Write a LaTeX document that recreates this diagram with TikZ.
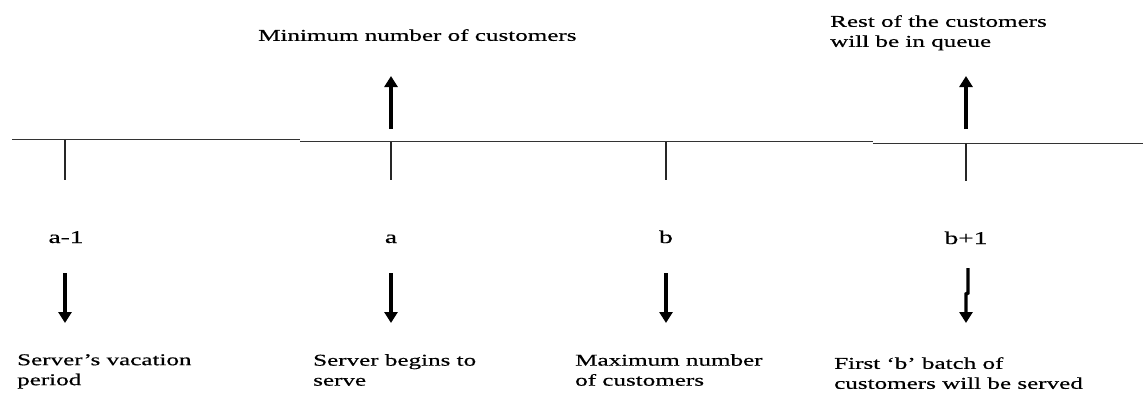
\documentclass[tikz,border=0pt]{standalone}
\usepackage{fontspec}
\setmainfont{Liberation Serif}[FakeStretch=1.52,FakeBold=0.5]
\usetikzlibrary{arrows.meta}
\begin{document}
\begin{tikzpicture}[x=1pt,y=-1pt,
  axisline/.style={line width=1.3pt,black!80},
  tickline/.style={line width=1.4pt,black!85},
  bigarrow/.style={line width=3.4pt,black,-{Triangle[width=13pt,length=11pt]}},
  lbl/.style={inner sep=0pt,align=left,anchor=north west,font=\fontsize{16.5}{20}\selectfont},
  pt/.style={inner sep=0pt,anchor=base,font=\fontsize{18}{20}\selectfont}]
\useasboundingbox (0,0) rectangle (1143,397);
\fill[white] (0,0) rectangle (1143,397);
% axis in three slightly offset pieces
\coordinate (l0) at (12,139.7);
\coordinate (l1) at (300,139.7);
\coordinate (l2) at (300,141.7);
\coordinate (l3) at (873,141.7);
\coordinate (l4) at (873,143.3);
\coordinate (l5) at (1143,143.3);
\draw[axisline] (l0) -- (l1);
\draw[axisline] (l2) -- (l3);
\draw[axisline] (l4) -- (l5);
% ticks
\coordinate (t1a) at (65,139.7);  \coordinate (t1b) at (65,180);
\coordinate (t2a) at (391,141.7); \coordinate (t2b) at (391,180);
\coordinate (t3a) at (666,141.7); \coordinate (t3b) at (666,180);
\coordinate (t4a) at (966,143.3); \coordinate (t4b) at (966,181);
\draw[tickline] (t1a) -- (t1b);
\draw[tickline] (t2a) -- (t2b);
\draw[tickline] (t3a) -- (t3b);
\draw[tickline] (t4a) -- (t4b);
% point labels
\node[pt] (pa1) at (66,243) {a-1};
\node[pt] (pa) at (391,243) {a};
\node[pt] (pb) at (666,243) {b};
\node[pt] (pb1) at (966,244) {b+1};
% up arrows
\coordinate (u1s) at (391,129); \coordinate (u1e) at (391,76);
\coordinate (u2s) at (966,129); \coordinate (u2e) at (966,76);
\draw[bigarrow] (u1s) -- (u1e);
\draw[bigarrow] (u2s) -- (u2e);
% down arrows
\coordinate (d1s) at (65,273);  \coordinate (d1e) at (65,323);
\coordinate (d2s) at (391,273); \coordinate (d2e) at (391,323);
\coordinate (d3s) at (666,273); \coordinate (d3e) at (666,323);
\coordinate (d4s) at (968,268); \coordinate (d4m) at (968,293);
\coordinate (d4n) at (966,294); \coordinate (d4e) at (966,323);
\draw[bigarrow] (d1s) -- (d1e);
\draw[bigarrow] (d2s) -- (d2e);
\draw[bigarrow] (d3s) -- (d3e);
\draw[bigarrow] (d4s) -- (d4m) -- (d4n) -- (d4e);
% top texts
\node[lbl] (minc) at (258,29) {Minimum number of customers};
\node[lbl] (rest) at (830,15) {Rest of the customers\\will be in queue};
% bottom texts
\node[lbl] (vac) at (17,354) {Server's vacation\\period};
\node[lbl] (beg) at (313,354) {Server begins to\\serve};
\node[lbl] (maxc) at (575,354) {Maximum number\\of customers};
\node[lbl] (first) at (834,357) {First `b' batch of\\customers will be served};
\end{tikzpicture}
\end{document}
